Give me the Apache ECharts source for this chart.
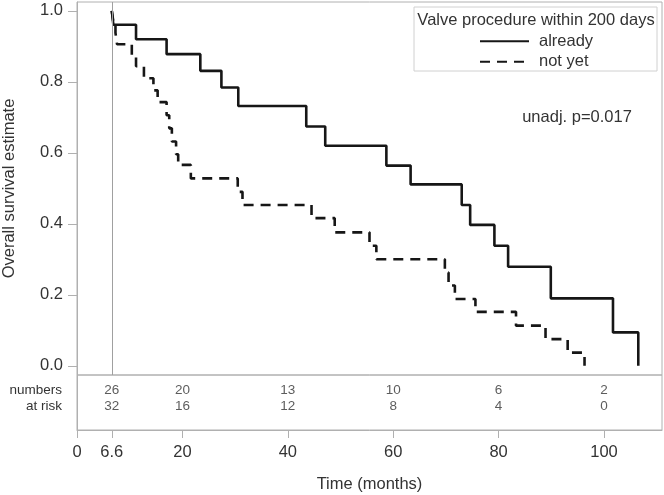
<!DOCTYPE html>
<html>
<head>
<meta charset="utf-8">
<script src="https://cdn.jsdelivr.net/npm/echarts@6/dist/echarts.min.js"></script>
<style>
html,body{margin:0;padding:0;background:#fff;}
#chart{width:664px;height:495px;}
</style>
</head>
<body>
<div id="chart"></div>
<script>
// ---- data ----
const alreadyTimes = [6.6, 6.9, 11.2, 17.0, 23.4, 27.4, 30.6, 43.5, 47.1, 58.7, 63.3, 73.0, 74.6, 79.2, 81.8, 89.9, 101.7, 106.5];
const alreadySurv  = [1.0, 0.961, 0.920, 0.878, 0.831, 0.784, 0.732, 0.674, 0.620, 0.564, 0.511, 0.453, 0.397, 0.338, 0.279, 0.190, 0.094, 0.0];

const notYetTimes = [6.6, 6.9, 7.3, 7.6, 10.4, 11.2, 12.7, 14.5, 15.3, 17.0, 17.5, 18.0, 18.8, 19.2, 21.6, 30.5, 31.4, 44.5, 48.9, 55.5, 56.8, 69.8, 70.5, 71.7, 75.6, 83.3, 88.9, 93.1, 96.3];
const notYetSurv  = [1.0, 0.969, 0.938, 0.906, 0.875, 0.844, 0.810, 0.776, 0.743, 0.706, 0.669, 0.632, 0.596, 0.566, 0.528, 0.490, 0.453, 0.416, 0.376, 0.338, 0.300, 0.263, 0.226, 0.188, 0.152, 0.113, 0.075, 0.037, 0.0];

const atRiskTimes   = [6.6, 20, 40, 60, 80, 100];
const atRiskAlready = [26, 20, 13, 10, 6, 2];
const atRiskNotYet  = [32, 16, 12, 8, 4, 0];

const xTickValues = [0, 6.6, 20, 40, 60, 80, 100];
const yTickValues = [0, 0.2, 0.4, 0.6, 0.8, 1.0];
const atRiskRowLabels = ['numbers', 'at risk'];
const seriesNames = ['already', 'not yet'];
const legendTitle = 'Valve procedure within 200 days';
const pText = 'unadj. p=0.017';
const startTime = 6.6;

// ---- chart ----
const FONT = '"Liberation Sans", Arial, sans-serif';
const TXT = '#333';
const GRAY = '#b0b0b0';
const X_MAX = 111;

const zip = (a, b) => a.map((v, i) => [v, b[i]]);
const riskData = (arr, row) => atRiskTimes.map((t, i) => [t, row, arr[i]]);

const chart = echarts.init(document.getElementById('chart'), null, {renderer: 'canvas'});
chart.setOption({
  animation: false,
  backgroundColor: '#fff',
  textStyle: {fontFamily: FONT},
  grid: [
    {left: 77, top: 2, width: 585, height: 373, show: true, borderColor: GRAY, borderWidth: 1, containLabel: false, outerBoundsMode: 'none'},
    {left: 77, top: 375, width: 585, height: 55, show: true, borderColor: GRAY, borderWidth: 1, containLabel: false, outerBoundsMode: 'none'}
  ],
  xAxis: [
    {gridIndex: 0, type: 'value', min: 0, max: X_MAX, show: false, splitLine: {show: false}},
    {gridIndex: 1, type: 'value', min: 0, max: X_MAX, position: 'bottom',
     name: 'Time (months)', nameLocation: 'middle', nameGap: 46,
     nameTextStyle: {fontSize: 16.5, color: TXT, fontFamily: FONT},
     axisLine: {show: true, onZero: false, lineStyle: {color: GRAY, width: 1}},
     axisTick: {show: true, length: 8, lineStyle: {color: GRAY}, customValues: xTickValues},
     axisLabel: {show: true, margin: 14, fontSize: 16.5, color: TXT, fontFamily: FONT, customValues: xTickValues,
                 formatter: v => String(v)},
     splitLine: {show: false}}
  ],
  yAxis: [
    {gridIndex: 0, type: 'value', min: -0.026, max: 1.025,
     name: 'Overall survival estimate', nameLocation: 'middle', nameGap: 59, nameRotate: 90,
     nameTextStyle: {fontSize: 16.5, color: TXT, fontFamily: FONT},
     axisLine: {show: true, onZero: false, lineStyle: {color: GRAY}},
     axisTick: {show: true, length: 9, lineStyle: {color: GRAY}, customValues: yTickValues},
     axisLabel: {show: true, margin: 14, fontSize: 16.5, color: TXT, fontFamily: FONT, customValues: yTickValues,
                 formatter: v => v.toFixed(1)},
     splitLine: {show: false}},
    {gridIndex: 1, type: 'value', min: -0.9375, max: 2.5, inverse: true,
     axisLine: {show: true, onZero: false, lineStyle: {color: GRAY}},
     axisTick: {show: false},
     axisLabel: {show: true, margin: 15, fontSize: 13.5, color: TXT, fontFamily: FONT, customValues: [0, 1],
                 formatter: v => atRiskRowLabels[Math.round(v)] || ''},
     splitLine: {show: false}}
  ],
  legend: {
    data: seriesNames,
    orient: 'vertical',
    left: 479, top: 31, padding: 0,
    itemWidth: 49, itemHeight: 14, itemGap: 0,
    itemStyle: {opacity: 0},
    textStyle: {fontSize: 16.5, color: TXT, fontFamily: FONT, lineHeight: 20.5, padding: [0, 0, 0, 5]},
    selectedMode: false
  },
  graphic: [
    {type: 'rect', shape: {x: 414, y: 7, width: 243, height: 64}, style: {fill: 'none', stroke: '#d0d0d0', lineWidth: 1}, z: 5},
    {type: 'text', x: 536, y: 20, style: {text: legendTitle, font: '16.5px ' + FONT, fill: TXT, textAlign: 'center', textVerticalAlign: 'middle'}, z: 6},
    {type: 'text', x: 577, y: 117, style: {text: pText, font: '16.5px ' + FONT, fill: TXT, textAlign: 'center', textVerticalAlign: 'middle'}, z: 6}
  ],
  series: [
    {name: seriesNames[0], type: 'line', xAxisIndex: 0, yAxisIndex: 0, step: 'end', symbol: 'none', showSymbol: false,
     data: zip(alreadyTimes, alreadySurv),
     lineStyle: {color: '#161616', width: 2.6, type: 'solid'}, itemStyle: {color: '#161616'},
     markLine: {silent: true, symbol: 'none', label: {show: false},
                lineStyle: {color: '#a0a0a0', width: 1, type: 'solid'}, data: [{xAxis: startTime}]},
     z: 3},
    {name: seriesNames[1], type: 'line', xAxisIndex: 0, yAxisIndex: 0, step: 'end', symbol: 'none', showSymbol: false,
     data: zip(notYetTimes, notYetSurv),
     lineStyle: {color: '#161616', width: 2.6, type: [10, 7]}, itemStyle: {color: '#161616'},
     z: 3},
    {type: 'scatter', xAxisIndex: 1, yAxisIndex: 1, symbolSize: 1, itemStyle: {color: 'rgba(0,0,0,0)'},
     data: riskData(atRiskAlready, 0).concat(riskData(atRiskNotYet, 1)),
     label: {show: true, position: 'inside', formatter: p => String(p.value[2]), fontSize: 13.5, color: TXT, fontFamily: FONT},
     labelLayout: {hideOverlap: false},
     silent: true}
  ]
});
</script>
</body>
</html>
